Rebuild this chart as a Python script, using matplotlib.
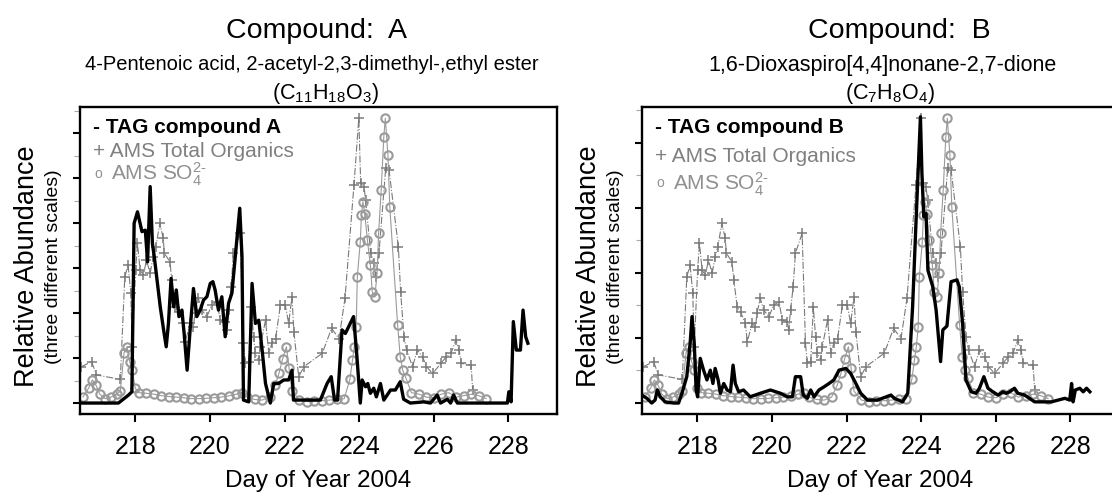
import matplotlib
matplotlib.use("Agg")
import matplotlib.pyplot as plt
from matplotlib.ticker import MultipleLocator

plt.rcParams['font.family'] = ['Liberation Sans', 'DejaVu Sans']
plt.rcParams['mathtext.fontset'] = 'custom'
plt.rcParams['mathtext.rm'] = 'Liberation Sans'
plt.rcParams['mathtext.it'] = 'Liberation Sans:italic'

# AMS data (same in both panels)
org_day = [216.56, 216.83, 216.96, 217.6, 217.72, 217.81, 217.88, 217.92, 218.01, 218.06, 218.13, 218.22,
           218.30, 218.40, 218.48, 218.55, 218.66, 218.75, 218.78, 218.93, 218.98, 219.07, 219.16, 219.29,
           219.34, 219.47, 219.56, 219.60, 219.69, 219.78, 219.92, 220.05, 220.19, 220.28, 220.41, 220.45,
           220.50, 220.57, 220.63, 220.81, 220.90, 220.95, 221.04, 221.11, 221.17, 221.22, 221.31, 221.35,
           221.49, 221.58, 221.66, 221.76, 221.89, 222.02, 222.11, 222.20, 222.25, 222.38, 222.52, 223.01,
           223.26, 223.46, 223.62, 223.86, 223.99, 224.04, 224.13, 224.17, 224.31, 224.40, 224.44, 224.53,
           224.71, 224.80, 225.05, 225.11, 225.20, 225.27, 225.43, 225.56, 225.70, 225.80, 225.97, 226.19,
           226.33, 226.46, 226.59, 226.68, 226.73, 227.00, 227.04]
org_val = [12.3, 14.0, 9.5, 8.0, 42.7, 46.6, 37.1, 19.0, 44.9, 53.9, 44.9, 43.2,
           48.3, 43.8, 49.4, 52.8, 60.7, 55.6, 50.6, 47.7, 41.6, 32.5, 30.8, 26.9,
           20.7, 26.9, 25.8, 30.3, 35.4, 31.4, 29.2, 33.1, 34.2, 28.0, 27.5, 24.7,
           31.4, 39.3, 50.6, 57.3, 20.2, 13.4, 14.0, 32.5, 22.4, 16.8, 14.5, 19.0,
           28.0, 16.8, 20.2, 21.8, 33.1, 33.1, 26.9, 35.9, 24.1, 8.9, 12.3, 16.8,
           25.2, 21.8, 35.4, 73.6, 96.2, 74.2, 73.1, 68.6, 50.6, 47.2, 42.7, 50.6,
           79.3, 78.7, 52.8, 37.6, 22.4, 17.9, 12.3, 17.9, 15.6, 12.3, 10.0, 13.4,
           15.6, 16.8, 21.3, 17.9, 13.4, 12.8, 4.4]

so4_day = [216.6, 216.75, 216.85, 216.95, 217.05, 217.2, 217.35, 217.5, 217.6, 217.7, 217.78, 217.85,
           217.92, 218.0, 218.1, 218.3, 218.5, 218.7, 218.9, 219.1, 219.3, 219.5, 219.7, 219.9,
           220.1, 220.3, 220.5, 220.7, 220.85, 221.0, 221.2, 221.4, 221.6, 221.75, 221.85, 221.95,
           222.05, 222.12, 222.2, 222.4, 222.6, 222.8, 223.0, 223.2, 223.4, 223.6, 223.75, 223.82,
           223.87, 223.92, 223.95, 224.03, 224.06, 224.10, 224.15, 224.22, 224.30, 224.35, 224.42, 224.48,
           224.52, 224.59, 224.66, 224.70, 224.77, 224.82, 225.03, 225.10, 225.17, 225.25, 225.4, 225.6,
           225.8, 226.0, 226.2, 226.4, 226.6, 226.8, 227.0, 227.2, 227.4]
so4_val = [2.1, 5.0, 7.8, 6.0, 3.0, 1.5, 2.0, 3.0, 4.0, 17.0, 19.0, 14.0,
           11.0, 5.0, 3.5, 3.3, 3.0, 2.5, 2.2, 2.0, 1.8, 1.5, 1.5, 1.6,
           1.8, 2.0, 2.4, 3.0, 3.5, 2.0, 1.2, 1.0, 2.0, 6.0, 10.0, 15.0,
           19.0, 12.0, 4.0, 1.0, 0.5, 0.6, 0.8, 1.0, 1.2, 1.5, 8.0, 14.5,
           19.0, 25.8, 42.7, 54.5, 63.5, 68.0, 64.0, 55.0, 46.6, 37.6, 35.9, 44.0,
           57.3, 72.0, 90.0, 96.2, 83.8, 66.3, 26.4, 15.6, 11.0, 8.5, 3.5, 3.0,
           2.0, 1.8, 3.0, 3.5, 2.0, 2.5, 3.0, 2.5, 1.5]

# TAG compound A
tag_a_day = [216.57, 217.55, 217.82, 217.91, 217.97, 218.06, 218.18, 218.27, 218.33, 218.40, 218.46, 218.51,
             218.67, 218.76, 218.83, 218.89, 218.96, 219.03, 219.10, 219.17, 219.25, 219.31, 219.39, 219.47,
             219.56, 219.65, 219.74, 219.83, 219.92, 220.01, 220.08, 220.14, 220.23, 220.32, 220.41, 220.50,
             220.59, 220.68, 220.80, 220.86, 220.90, 221.04, 221.13, 221.22, 221.31, 221.40, 221.49, 221.62,
             221.71, 221.84, 221.98, 222.11, 222.20, 222.24, 222.51, 222.96, 223.14, 223.25, 223.34, 223.42,
             223.54, 223.63, 223.85, 223.94, 224.03, 224.08, 224.17, 224.23, 224.30, 224.39, 224.46, 224.57,
             224.66, 224.84, 224.97, 225.10, 225.19, 225.37, 225.73, 225.91, 226.09, 226.18, 226.36, 226.45,
             226.53, 226.63, 226.98, 227.97, 228.01, 228.07, 228.13, 228.21, 228.32, 228.39, 228.46, 228.52]
tag_a_val = [0.0, 0.0, 2.7, 3.8, 60.7, 64.6, 57.9, 58.4, 47.7, 73.1, 53.9, 49.4,
             32.5, 24.7, 19.0, 26.9, 42.1, 32.5, 38.2, 29.2, 31.4, 23.5, 11.1, 24.7,
             38.7, 29.2, 31.4, 34.8, 35.9, 40.4, 41.0, 38.2, 31.4, 35.9, 22.4, 33.7,
             37.1, 49.4, 65.8, 49.4, 1.0, 0.4, 40.4, 26.9, 28.0, 17.9, 6.6, 0.0,
             6.6, 6.6, 7.8, 7.8, 11.1, 1.0, 1.0, 1.0, 6.6, 8.9, 1.0, 1.0,
             24.7, 23.5, 29.2, 15.6, 0.0, 7.8, 5.5, 6.6, 3.3, 5.0, 2.1, 6.6,
             1.0, 4.4, 4.4, 7.2, 1.3, 0.0, 0.4, 0.0, 2.7, 0.0, 1.3, 0.0,
             2.7, 0.0, 0.0, 0.0, 3.8, 0.4, 27.5, 17.9, 17.9, 31.4, 22.4, 20.2]

# TAG compound B
tag_b_day = [216.51, 216.65, 216.78, 216.87, 216.93, 217.01, 217.14, 217.36, 217.50, 217.59, 217.72, 217.81,
             217.86, 217.92, 217.97, 218.01, 218.08, 218.17, 218.26, 218.35, 218.42, 218.48, 218.56, 218.62,
             218.71, 218.80, 218.89, 218.96, 219.02, 219.11, 219.24, 219.42, 219.69, 219.96, 220.23, 220.41,
             220.55, 220.63, 220.77, 220.84, 220.95, 221.04, 221.13, 221.26, 221.40, 221.53, 221.66, 221.80,
             221.98, 222.11, 222.25, 222.38, 222.56, 222.83, 223.19, 223.28, 223.50, 223.64, 223.77, 223.86,
             223.98, 224.02, 224.07, 224.13, 224.18, 224.31, 224.40, 224.52, 224.58, 224.69, 224.80, 224.96,
             225.02, 225.11, 225.20, 225.34, 225.47, 225.56, 225.68, 225.79, 225.92, 226.06, 226.19, 226.28,
             226.37, 226.50, 226.59, 226.77, 227.04, 227.49, 227.85, 227.98, 228.03, 228.07, 228.13, 228.25,
             228.34, 228.43, 228.52]
tag_b_val = [2.7, 1.6, 0.0, 1.0, 4.4, 2.1, 0.4, 0.0, 0.0, 3.3, 8.9, 20.2,
             29.2, 20.2, 4.4, 2.1, 15.1, 11.1, 7.8, 11.1, 6.6, 11.7, 7.8, 3.3,
             6.6, 4.4, 3.8, 12.8, 6.6, 3.8, 4.4, 2.1, 3.3, 4.4, 3.3, 2.1,
             2.1, 8.9, 8.9, 2.7, 1.6, 4.4, 2.1, 4.4, 5.5, 6.6, 7.8, 11.1,
             11.7, 10.0, 6.6, 3.3, 1.0, 1.0, 2.7, 1.6, 0.4, 3.3, 32.5, 60.7,
             96.7, 77.5, 62.9, 64.0, 44.9, 39.3, 31.4, 14.0, 24.7, 26.0, 41.0, 41.6,
             39.3, 26.9, 7.8, 3.8, 3.3, 5.0, 8.9, 5.0, 3.8, 2.7, 3.8, 3.3,
             3.8, 5.0, 3.3, 2.7, 0.4, 0.4, 1.6, 1.0, 6.6, 0.4, 4.4, 5.0,
             3.8, 5.0, 3.8]

x_ticks = [218, 220, 222, 224, 226, 228]

GRAY_PLUS = '#7a7a7a'
GRAY_CIRC = '#9a9a9a'

fig = plt.figure(figsize=(11.12, 4.99), dpi=100)


def draw_panel(ax, tag_day, tag_val, name, major_step, minor_step, leg_y):
    ax.plot(org_day, org_val, color=GRAY_PLUS, lw=0.8, ls='-.', marker='+', ms=6.5, mew=1.1, zorder=2)
    ax.plot(so4_day, so4_val, color=GRAY_CIRC, lw=0.8, ls='-', marker='o', ms=6, mew=1.5,
            mfc='none', mec=GRAY_CIRC, zorder=2)
    ax.plot(tag_day, tag_val, color='black', lw=2.4, zorder=3)
    ax.set_xlim(216.52, 229.3)
    ax.set_ylim(-3.7, 100)
    ax.set_xticks(x_ticks)
    ax.yaxis.set_major_locator(MultipleLocator(major_step))
    ax.yaxis.set_minor_locator(MultipleLocator(minor_step))
    ax.set_yticklabels([])
    ax.tick_params(axis='x', direction='out', length=6, width=1.5, labelsize=18, pad=9)
    ax.tick_params(axis='y', which='major', direction='out', length=5, width=1.5)
    ax.tick_params(axis='y', which='minor', direction='out', length=4, width=0.8, color='#aaaaaa')
    for s in ax.spines.values():
        s.set_linewidth(1.7)
    ax.set_xlabel('Day of Year 2004', fontsize=17.5, labelpad=8)
    x0 = 0.027
    ax.text(x0, leg_y[0], '- TAG compound ' + name, transform=ax.transAxes, fontsize=15,
            fontweight='bold', color='black', va='baseline')
    ax.text(x0, leg_y[1], '+ AMS Total Organics', transform=ax.transAxes, fontsize=15,
            color='#808080', va='baseline')
    ax.text(x0 + 0.004, leg_y[2] + 0.008, 'o', transform=ax.transAxes, fontsize=10,
            color='#909090', va='baseline')
    ax.text(x0 + 0.038, leg_y[2], 'AMS SO$_4^{2\u2010}$', transform=ax.transAxes, fontsize=15,
            color='#909090', va='baseline')
    ax.text(-0.112, 0.48, 'Relative Abundance', transform=ax.transAxes, rotation=90,
            fontsize=19.5, ha='center', va='center')
    ax.text(-0.055, 0.48, '(three different scales)', transform=ax.transAxes, rotation=90,
            fontsize=14, ha='center', va='center')


ax1 = fig.add_axes([80 / 1112, 85 / 499, 477 / 1112, 307 / 499])
draw_panel(ax1, tag_a_day, tag_a_val, 'A', 15.2, 7.6, [0.915, 0.837, 0.762])

ax2 = fig.add_axes([642 / 1112, 85 / 499, 477 / 1112, 307 / 499])
draw_panel(ax2, tag_b_day, tag_b_val, 'B', 22.0, 11.0, [0.915, 0.821, 0.730])

# titles
fig.text(316 / 1112, 1 - 37.5 / 499, 'Compound:  A', fontsize=20.5, ha='center', va='baseline')
fig.text(312 / 1112, 1 - 70.5 / 499, '4-Pentenoic acid, 2-acetyl-2,3-dimethyl-,ethyl ester',
         fontsize=14.5, ha='center', va='baseline')
fig.text(325 / 1112, 1 - 99 / 499, '(C$_{11}$H$_{18}$O$_3$)', fontsize=15.5, ha='center', va='baseline')

fig.text(899 / 1112, 1 - 37.5 / 499, 'Compound:  B', fontsize=20.5, ha='center', va='baseline')
fig.text(882 / 1112, 1 - 70.5 / 499, '1,6-Dioxaspiro[4,4]nonane-2,7-dione',
         fontsize=15.5, ha='center', va='baseline')
fig.text(890 / 1112, 1 - 99 / 499, '(C$_7$H$_8$O$_4$)', fontsize=15.5, ha='center', va='baseline')

fig.savefig('out.png', dpi=100)
